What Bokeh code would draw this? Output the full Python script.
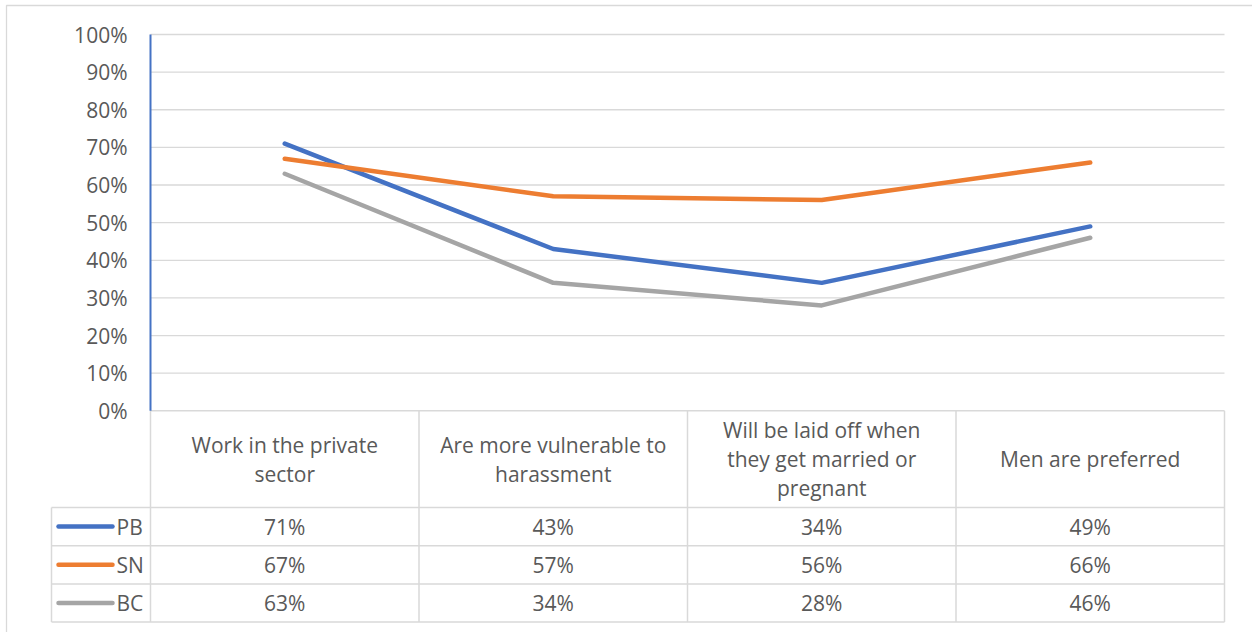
from bokeh.plotting import figure
from bokeh.models import Range1d
from bokeh.core.properties import value
from bokeh.embed import file_html
from bokeh.resources import INLINE

# ---- data -----------------------------------------------------------------
categories = [
    "Work in the private\nsector",
    "Are more vulnerable to\nharassment",
    "Will be laid off when\nthey get married or\npregnant",
    "Men are preferred",
]
series_names = ["PB", "SN", "BC"]
pb_values = [0.71, 0.43, 0.34, 0.49]
sn_values = [0.67, 0.57, 0.56, 0.66]
bc_values = [0.63, 0.34, 0.28, 0.46]
series_colors = ["#4472C4", "#ED7D31", "#A5A5A5"]
y_ticks = [0.0, 0.1, 0.2, 0.3, 0.4, 0.5, 0.6, 0.7, 0.8, 0.9, 1.0]
y_tick_labels = ["0%", "10%", "20%", "30%", "40%", "50%", "60%", "70%", "80%", "90%", "100%"]

series_values = [pb_values, sn_values, bc_values]

# ---- page layout (pixels) --------------------------------------------------
W, H = 1252, 632
PLOT_L, PLOT_R = 150, 1224          # plot area / table category columns
Y_TOP_PX, Y_ZERO_PX = 34.0, 410.3   # pixel rows of 100% and 0%
LEGEND_L = 51                       # left edge of the legend column
HEADER_BOTTOM = 507.0
ROW_H = 38.2
LINE_SPACING = 29.0

FONT = value("Open Sans")
TEXT_COLOR = "#595959"
GRID_COLOR = "#D9D9D9"
FS = "21px"

n_cat = len(categories)
col_w = (PLOT_R - PLOT_L) / n_cat
unit = Y_ZERO_PX - Y_TOP_PX


def px_x(px):
    return -0.5 + (px - PLOT_L) / col_w


def px_y(py):
    return (Y_ZERO_PX - py) / unit


p = figure(
    width=W, height=H,
    x_range=Range1d(px_x(0), px_x(W)),
    y_range=Range1d(px_y(H), px_y(0)),
    x_axis_type=None, y_axis_type=None,
    output_backend="svg", toolbar_location=None,
    min_border=0, outline_line_color=None,
    background_fill_color="white", border_fill_color="white",
)
p.grid.visible = False

# outer chart border
p.quad(left=[px_x(6)], right=[px_x(W + 20)], top=[px_y(5)], bottom=[px_y(H + 20)],
       fill_color=None, line_color=GRID_COLOR, line_width=1.3)

# horizontal gridlines (above 0%)
x_left, x_right = px_x(PLOT_L), px_x(PLOT_R)
grid_ticks = [t for t in y_ticks if t > 0]
p.segment(x0=[x_left] * len(grid_ticks), x1=[x_right] * len(grid_ticks),
          y0=grid_ticks, y1=grid_ticks, line_color=GRID_COLOR, line_width=1.3)

# y tick labels
p.text(x=[x_left] * len(y_ticks), y=y_ticks, text=y_tick_labels,
       x_offset=-23, text_align="right", text_baseline="middle",
       text_font=FONT, text_font_size=FS, text_color=TEXT_COLOR)

# ---- data table ------------------------------------------------------------
n_rows = len(series_names)
row_edges_px = [HEADER_BOTTOM + i * ROW_H for i in range(n_rows + 1)]
table_bottom = px_y(row_edges_px[-1])

# table top line (header row, category columns only)
p.segment(x0=[x_left], x1=[x_right], y0=[0], y1=[0],
          line_color=GRID_COLOR, line_width=1.5)
# row lines (span the legend column too)
row_ys = [px_y(r) for r in row_edges_px]
p.segment(x0=[px_x(LEGEND_L)] * len(row_ys), x1=[x_right] * len(row_ys),
          y0=row_ys, y1=row_ys, line_color=GRID_COLOR, line_width=1.5)
# vertical column lines
col_xs = [i - 0.5 for i in range(n_cat + 1)]
p.segment(x0=col_xs, x1=col_xs, y0=[0] * len(col_xs), y1=[table_bottom] * len(col_xs),
          line_color=GRID_COLOR, line_width=1.5)
# legend column left edge
p.segment(x0=[px_x(LEGEND_L)], x1=[px_x(LEGEND_L)], y0=[row_ys[0]], y1=[table_bottom],
          line_color=GRID_COLOR, line_width=1.5)

# category header labels (wrapped, vertically centred in header row)
header_mid_px = (Y_ZERO_PX + HEADER_BOTTOM) / 2
hx, hy, ht = [], [], []
for i, label in enumerate(categories):
    lines = label.split("\n")
    first = header_mid_px - (len(lines) - 1) * LINE_SPACING / 2
    for j, line in enumerate(lines):
        hx.append(i)
        hy.append(px_y(first + j * LINE_SPACING))
        ht.append(line)
p.text(x=hx, y=hy, text=ht, text_align="center", text_baseline="middle",
       text_font=FONT, text_font_size=FS, text_color=TEXT_COLOR)

# series rows: legend key, name, values
for r, (name, vals, color) in enumerate(zip(series_names, series_values, series_colors)):
    cy = px_y(row_edges_px[r] + ROW_H / 2)
    p.segment(x0=[px_x(58)], x1=[px_x(112)], y0=[cy], y1=[cy],
              line_color=color, line_width=4.5, line_cap="round")
    p.text(x=[px_x(116)], y=[cy], text=[name], text_align="left", text_baseline="middle",
           text_font=FONT, text_font_size=FS, text_color=TEXT_COLOR)
    p.text(x=list(range(n_cat)), y=[cy] * n_cat,
           text=[f"{round(v * 100)}%" for v in vals],
           text_align="center", text_baseline="middle",
           text_font=FONT, text_font_size=FS, text_color=TEXT_COLOR)

# y axis line
p.segment(x0=[x_left], x1=[x_left], y0=[0], y1=[1],
          line_color="#4472C4", line_width=2)

# ---- series lines ------------------------------------------------------------
for vals, color in zip(series_values, series_colors):
    p.line(x=list(range(n_cat)), y=vals, line_color=color, line_width=4.5,
           line_cap="round", line_join="round")

open("out.html", "w").write(file_html(p, INLINE))
